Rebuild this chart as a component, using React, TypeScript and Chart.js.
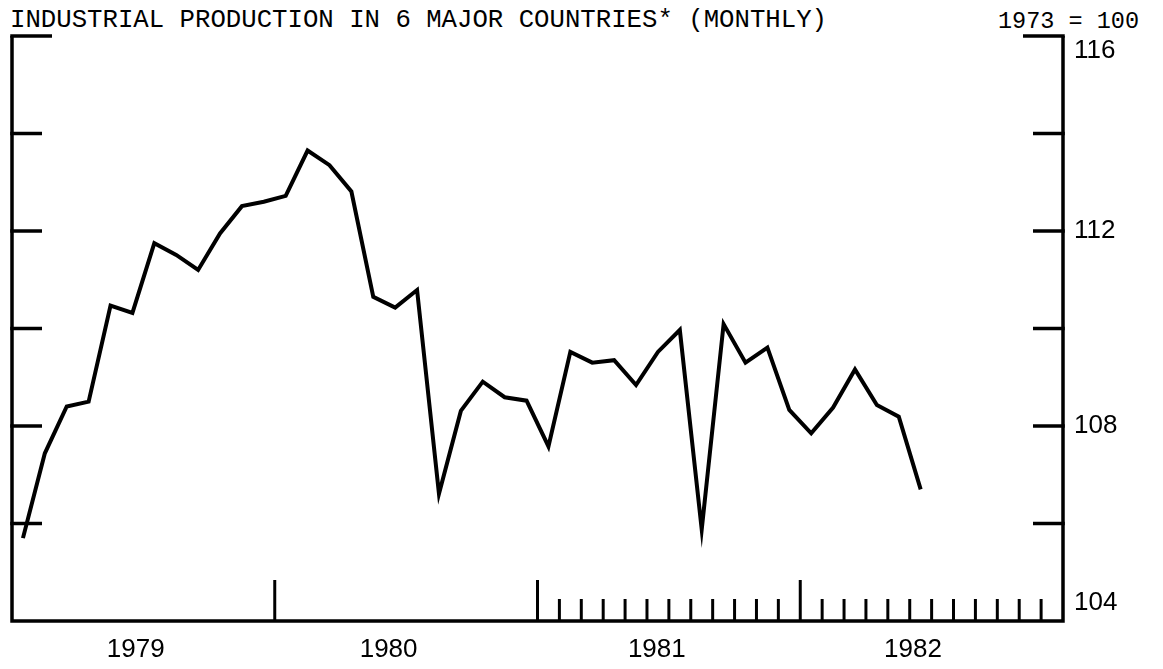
import React, { useEffect, useRef } from "react";
import { Chart, registerables } from "chart.js";

Chart.register(...registerables);

const TITLE = "INDUSTRIAL PRODUCTION IN 6 MAJOR COUNTRIES* (MONTHLY)";
const BASE_NOTE = "1973 = 100";

const MONTHS = [
  "1979-01", "1979-02", "1979-03", "1979-04", "1979-05", "1979-06",
  "1979-07", "1979-08", "1979-09", "1979-10", "1979-11", "1979-12",
  "1980-01", "1980-02", "1980-03", "1980-04", "1980-05", "1980-06",
  "1980-07", "1980-08", "1980-09", "1980-10", "1980-11", "1980-12",
  "1981-01", "1981-02", "1981-03", "1981-04", "1981-05", "1981-06",
  "1981-07", "1981-08", "1981-09", "1981-10", "1981-11", "1981-12",
  "1982-01", "1982-02", "1982-03", "1982-04", "1982-05", "1982-06",
  "1982-07", "1982-08", "1982-09", "1982-10", "1982-11", "1982-12",
];

const PRODUCTION = [
  105.7, 107.44, 108.4, 108.5, 110.47, 110.32, 111.75, 111.51, 111.2, 111.95, 112.51, 112.6,
  112.72, 113.65, 113.35, 112.81, 110.65, 110.43, 110.79, 106.61, 108.31, 108.91, 108.59, 108.52,
  107.58, 109.52, 109.3, 109.35, 108.84, 109.52, 109.97, 105.88, 110.09, 109.3, 109.61, 108.33,
  107.85, 108.38, 109.16, 108.43, 108.19, 106.7,
];

const Y_MIN = 104;
const Y_MAX = 116;
const Y_TICKS = [104, 106, 108, 110, 112, 114, 116];
const Y_LABELS = [104, 108, 112, 116];

const YEAR_LABELS = ["1979", "1980", "1981", "1982"];
// label centres, in months counted from the start of 1979
const YEAR_LABEL_POS = [5.65, 17.2, 29.45, 41.15];
// year boundaries (month index where a new year begins)
const YEAR_TICKS = [12, 24, 36];
// first and last month boundary carrying a short monthly tick
const MONTH_TICK_FROM = 25;
const MONTH_TICK_TO = 47;

export default function App() {
  const ref = useRef<HTMLCanvasElement>(null);

  useEffect(() => {
    const canvas = ref.current;
    if (!canvas) return;

    const axesPlugin = {
      id: "paperAxes",
      afterDraw(chart: any) {
        const { ctx, chartArea: a, scales } = chart;
        const xs = scales.x;
        const ys = scales.y;
        const seg = (x1: number, y1: number, x2: number, y2: number, w: number) => {
          ctx.lineWidth = w;
          ctx.beginPath();
          ctx.moveTo(x1, y1);
          ctx.lineTo(x2, y2);
          ctx.stroke();
        };
        ctx.save();
        ctx.strokeStyle = "#000";
        ctx.fillStyle = "#000";
        ctx.lineCap = "butt";
        ctx.lineJoin = "miter";

        // frame: left, bottom, right
        ctx.lineWidth = 3.5;
        ctx.beginPath();
        ctx.moveTo(a.left, a.top);
        ctx.lineTo(a.left, a.bottom);
        ctx.lineTo(a.right, a.bottom);
        ctx.lineTo(a.right, a.top);
        ctx.stroke();

        // y ticks, inward on both sides
        for (const v of Y_TICKS) {
          if (v === Y_MIN) continue;
          const y = ys.getPixelForValue(v);
          const len = v === Y_MAX ? 40 : 30;
          seg(a.left - 1.75, y, a.left + len, y, 3.5);
          seg(a.right - len, y, a.right + 1.75, y, 3.5);
        }

        // year ticks (tall)
        for (const k of YEAR_TICKS) {
          const x = xs.getPixelForValue(k - 0.5);
          seg(x, a.bottom, x, a.bottom - 41, 3);
        }
        // monthly ticks (short)
        for (let k = MONTH_TICK_FROM; k <= MONTH_TICK_TO; k++) {
          if (YEAR_TICKS.includes(k)) continue;
          const x = xs.getPixelForValue(k - 0.5);
          seg(x, a.bottom, x, a.bottom - 22, 3);
        }

        // year labels
        ctx.font = '26px "Liberation Sans"';
        ctx.textAlign = "center";
        ctx.textBaseline = "middle";
        YEAR_LABELS.forEach((t, i) => {
          const x = xs.getPixelForValue(YEAR_LABEL_POS[i] - 0.5);
          ctx.fillText(t, x, a.bottom + 29);
        });

        // right-hand value labels
        ctx.textAlign = "left";
        for (const v of Y_LABELS) {
          let y = ys.getPixelForValue(v);
          if (v === Y_MAX) y += 15;
          if (v === Y_MIN) y -= 18;
          ctx.fillText(String(v), a.right + 11, y);
        }
        ctx.restore();
      },
    };

    const chart = new Chart(canvas, {
      type: "line",
      data: {
        labels: MONTHS,
        datasets: [
          {
            label: "Industrial production",
            data: PRODUCTION,
            borderColor: "#000",
            borderWidth: 4,
            pointRadius: 0,
            tension: 0,
            fill: false,
            borderJoinStyle: "miter",
          },
        ],
      },
      options: {
        responsive: false,
        animation: false,
        layout: { padding: { left: 12, right: 100, top: 36, bottom: 48 } },
        plugins: {
          legend: { display: false },
          tooltip: { enabled: false },
          title: { display: false },
        },
        scales: {
          x: { type: "category", offset: true, display: false },
          y: { type: "linear", min: Y_MIN, max: Y_MAX, display: false },
        },
      },
      plugins: [axesPlugin],
    });
    return () => chart.destroy();
  }, []);

  return (
    <div
      style={{
        position: "fixed",
        left: 0,
        top: 0,
        width: 1163,
        height: 669,
        background: "#fff",
        overflow: "hidden",
      }}
    >
      <div
        style={{
          position: "absolute",
          left: 10,
          top: 8.3,
          fontFamily: '"Liberation Mono", monospace',
          fontSize: "25.7px",
          lineHeight: 1,
          whiteSpace: "pre",
          color: "#000",
        }}
      >
        {TITLE}
      </div>
      <div
        style={{
          position: "absolute",
          left: 998,
          top: 10,
          fontFamily: '"Liberation Mono", monospace',
          fontSize: "23.5px",
          lineHeight: 1,
          whiteSpace: "pre",
          color: "#000",
        }}
      >
        {BASE_NOTE}
      </div>
      <canvas
        ref={ref}
        width={1163}
        height={669}
        style={{ position: "absolute", left: 0, top: 0, display: "block" }}
      />
    </div>
  );
}
